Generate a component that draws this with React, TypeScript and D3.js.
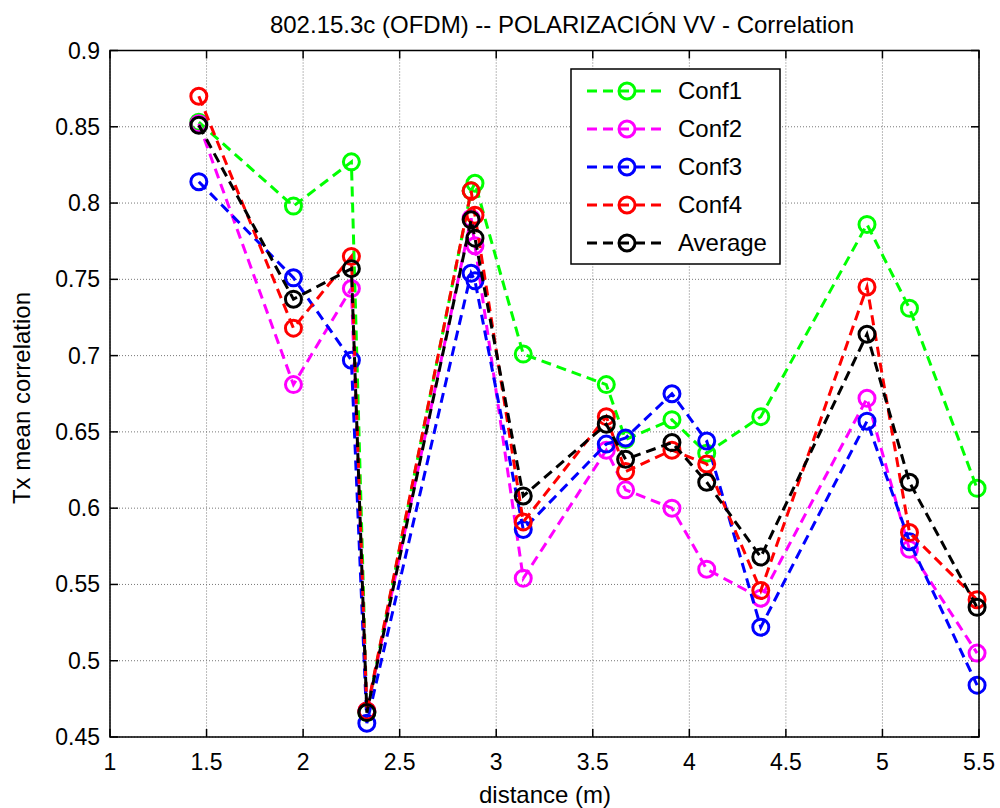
import React from "react";
import * as d3 from "d3";

const distances = [1.46, 1.95, 2.25, 2.33, 2.87, 2.89, 3.14, 3.57, 3.67, 3.91, 4.09, 4.37, 4.92, 5.14, 5.49];
const conf1 = [0.853, 0.798, 0.827, 0.466, 0.808, 0.813, 0.701, 0.681, 0.645, 0.658, 0.636, 0.660, 0.786, 0.731, 0.613];
const conf2 = [0.852, 0.681, 0.744, 0.467, 0.790, 0.772, 0.554, 0.638, 0.612, 0.600, 0.560, 0.541, 0.672, 0.573, 0.505];
const conf3 = [0.814, 0.751, 0.697, 0.459, 0.754, 0.749, 0.586, 0.642, 0.646, 0.675, 0.644, 0.522, 0.657, 0.578, 0.484];
const conf4 = [0.870, 0.718, 0.765, 0.467, 0.808, 0.792, 0.591, 0.660, 0.624, 0.638, 0.629, 0.546, 0.745, 0.584, 0.540];
const average = [0.851, 0.737, 0.757, 0.466, 0.789, 0.777, 0.608, 0.655, 0.632, 0.643, 0.617, 0.568, 0.714, 0.617, 0.535];

const seriesNames = ["Conf1", "Conf2", "Conf3", "Conf4", "Average"];
const seriesColors = ["#00ff00", "#ff00ff", "#0000ff", "#ff0000", "#000000"];
const xTicks = [1, 1.5, 2, 2.5, 3, 3.5, 4, 4.5, 5, 5.5];
const yTicks = [0.45, 0.5, 0.55, 0.6, 0.65, 0.7, 0.75, 0.8, 0.85, 0.9];

const title = "802.15.3c (OFDM) -- POLARIZACIÓN VV - Correlation";
const xLabel = "distance (m)";
const yLabel = "Tx mean correlation";

export default function App() {
  const W = 1000, H = 808;
  const L = 110, R = 979, T = 50.5, B = 737;
  const x = d3.scaleLinear().domain([1, 5.5]).range([L, R]);
  const y = d3.scaleLinear().domain([0.45, 0.9]).range([B, T]);
  const allSeries = [conf1, conf2, conf3, conf4, average];
  const line = d3.line<[number, number]>().x(d => x(d[0])).y(d => y(d[1]));
  const font = "'Liberation Sans', Arial, Helvetica, sans-serif";
  const tick = 8;
  const fs = 23;
  const fsBig = 24;

  const legX = 571, legY = 69, legW = 209, legH = 195;

  return (
    <svg width={W} height={H} style={{ position: "absolute", left: 0, top: 0, background: "#fff" }} fontFamily={font}>
      <rect x={0} y={0} width={W} height={H} fill="#fff" />
      {/* grid */}
      {xTicks.map(t => (
        <line key={"gx" + t} x1={x(t)} x2={x(t)} y1={T} y2={B} stroke="#777" strokeWidth={1} strokeDasharray="1,2" />
      ))}
      {yTicks.map(t => (
        <line key={"gy" + t} x1={L} x2={R} y1={y(t)} y2={y(t)} stroke="#777" strokeWidth={1} strokeDasharray="1,2" />
      ))}
      {/* ticks */}
      {xTicks.map(t => (
        <g key={"tx" + t}>
          <line x1={x(t)} x2={x(t)} y1={B} y2={B - tick} stroke="#000" strokeWidth={1.5} />
          <line x1={x(t)} x2={x(t)} y1={T} y2={T + tick} stroke="#000" strokeWidth={1.5} />
          <text x={x(t)} y={770} fontSize={fs} textAnchor="middle" fill="#000">{String(t)}</text>
        </g>
      ))}
      {yTicks.map(t => (
        <g key={"ty" + t}>
          <line x1={L} x2={L + tick} y1={y(t)} y2={y(t)} stroke="#000" strokeWidth={1.5} />
          <line x1={R} x2={R - tick} y1={y(t)} y2={y(t)} stroke="#000" strokeWidth={1.5} />
          <text x={L - 10} y={y(t) + 8} fontSize={fs} textAnchor="end" fill="#000">{String(t)}</text>
        </g>
      ))}
      {/* series */}
      {allSeries.map((s, i) => {
        const pts: [number, number][] = distances.map((d, j) => [d, s[j]]);
        return (
          <g key={"s" + i}>
            <path d={line(pts) || ""} fill="none" stroke={seriesColors[i]} strokeWidth={3} strokeDasharray="10,6" />
            {pts.map((p, j) => (
              <circle key={j} cx={x(p[0])} cy={y(p[1])} r={8} fill="none" stroke={seriesColors[i]} strokeWidth={3} />
            ))}
          </g>
        );
      })}
      {/* axes box */}
      <rect x={L} y={T} width={R - L} height={B - T} fill="none" stroke="#000" strokeWidth={1.5} />
      {/* legend */}
      <rect x={legX} y={legY} width={legW} height={legH} fill="#fff" stroke="#000" strokeWidth={1.5} />
      {seriesNames.map((n, i) => {
        const cy = 91 + i * 38;
        return (
          <g key={"l" + n}>
            <line x1={587} x2={663} y1={cy} y2={cy} stroke={seriesColors[i]} strokeWidth={3} strokeDasharray="10,6" />
            <circle cx={627} cy={cy} r={8} fill="none" stroke={seriesColors[i]} strokeWidth={3} />
            <text x={678} y={cy + 8} fontSize={fsBig} fill="#000">{n}</text>
          </g>
        );
      })}
      {/* labels */}
      <text x={562} y={33} fontSize={fsBig} textAnchor="middle" fill="#000">{title}</text>
      <text x={545} y={803} fontSize={fsBig} textAnchor="middle" fill="#000">{xLabel}</text>
      <text transform={`translate(30,398) rotate(-90)`} fontSize={fsBig} textAnchor="middle" fill="#000">{yLabel}</text>
    </svg>
  );
}
